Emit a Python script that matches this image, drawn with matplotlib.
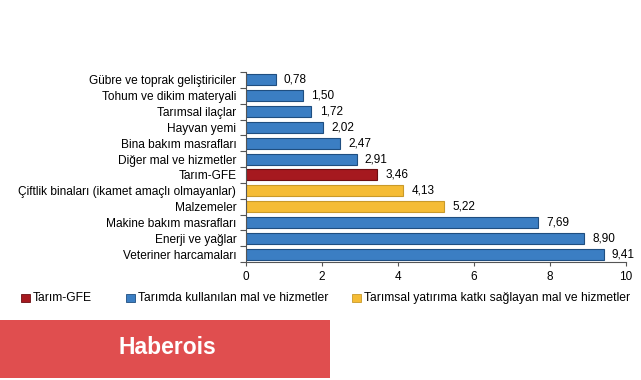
import matplotlib.pyplot as plt
import matplotlib.patches as mpatches
import numpy as np

plt.rcParams['font.family'] = ['Liberation Sans', 'DejaVu Sans']

categories = ['Gübre ve toprak geliştiriciler', 'Tohum ve dikim materyali', 'Tarımsal ilaçlar',
              'Hayvan yemi', 'Bina bakım masrafları', 'Diğer mal ve hizmetler', 'Tarım-GFE',
              'Çiftlik binaları (ikamet amaçlı olmayanlar)', 'Malzemeler',
              'Makine bakım masrafları', 'Enerji ve yağlar', 'Veteriner harcamaları']
values = [0.78, 1.50, 1.72, 2.02, 2.47, 2.91, 3.46, 4.13, 5.22, 7.69, 8.90, 9.41]
groups = ['b', 'b', 'b', 'b', 'b', 'b', 'r', 'y', 'y', 'b', 'b', 'b']

legend_labels = ['Tarım-GFE', 'Tarımda kullanılan mal ve hizmetler',
                 'Tarımsal yatırıma katkı sağlayan mal ve hizmetler']

face = {'b': '#3B7EC3', 'r': '#A6191F', 'y': '#F5BC35'}
edge = {'b': '#1F4E80', 'r': '#6B0E12', 'y': '#C99A2A'}

fig = plt.figure(figsize=(6.41, 3.8), dpi=100)
ax = fig.add_axes([0.3838, 0.3105, 0.5928, 0.50])

y = np.arange(len(categories))
ax.barh(y, values, height=0.7,
        color=[face[g] for g in groups], edgecolor=[edge[g] for g in groups], linewidth=0.8)

for yi, v in zip(y, values):
    ax.annotate(f'{v:.2f}'.replace('.', ','), (v, yi), xytext=(6, 0), textcoords='offset points',
                va='center', ha='left', fontsize=8.5)

ax.set_ylim(len(categories) - 0.5, -0.5)
ax.set_xlim(0, 10)
ax.set_xticks([0, 2, 4, 6, 8, 10])
ax.set_yticks(y)
ax.set_yticklabels(categories, fontsize=8.6)
ax.set_yticks(np.arange(len(categories) + 1) - 0.5, minor=True)
ax.tick_params(axis='y', which='major', length=0, pad=7)
ax.tick_params(axis='y', which='minor', length=4, width=0.8, color='#555555')
ax.tick_params(axis='x', length=3, labelsize=8.5, color='#555555')
ax.spines['top'].set_visible(False)
ax.spines['right'].set_visible(False)
ax.spines['left'].set_color('#555555')
ax.spines['bottom'].set_color('#555555')

# legend drawn by hand
leg_y = 1 - 298 / 380
for x0, g, lab in zip([21, 126, 352], ['r', 'b', 'y'], legend_labels):
    fig.patches.append(mpatches.Rectangle((x0 / 641, leg_y - 4 / 380), 9 / 641, 8 / 380,
                                          transform=fig.transFigure, facecolor=face[g],
                                          edgecolor=edge[g], linewidth=0.6))
    fig.text((x0 + 12) / 641, leg_y, lab, fontsize=8.75, va='center', ha='left')

# banner
fig.patches.append(mpatches.Rectangle((0, 1 - 378 / 380), 330 / 641, 58 / 380,
                                      transform=fig.transFigure, facecolor='#E04E4F',
                                      edgecolor='none'))
fig.text(167 / 641, 1 - 348 / 380, 'Haberois', color='white', fontsize=16.5,
         fontweight='bold', ha='center', va='center')

fig.savefig('out.png', dpi=100)
